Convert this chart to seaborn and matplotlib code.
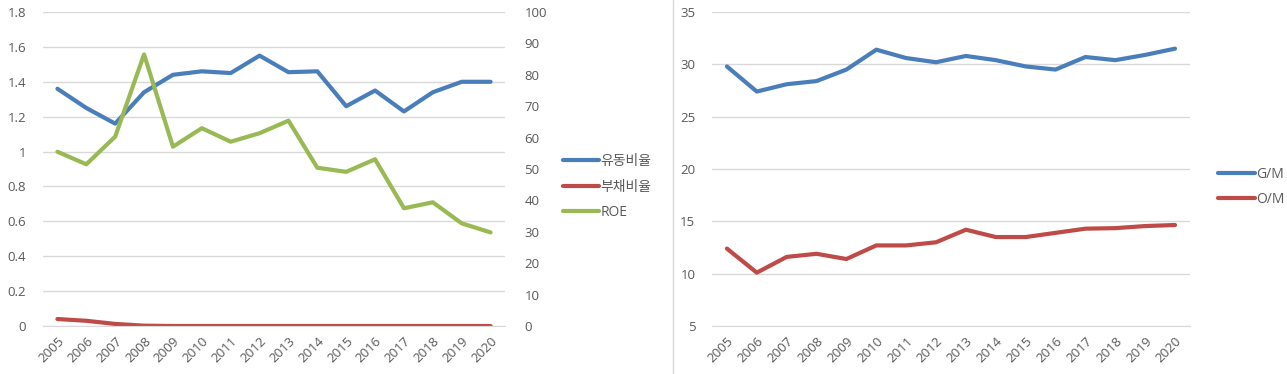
import matplotlib.pyplot as plt
import seaborn as sns
import pandas as pd
import numpy as np
from matplotlib.lines import Line2D

years = [str(y) for y in range(2005, 2021)]

# 왼쪽 차트
current_ratio = [1.36, 1.25, 1.16, 1.34, 1.44, 1.46, 1.45, 1.55, 1.455, 1.46,
                 1.26, 1.35, 1.23, 1.34, 1.40, 1.40]
debt_ratio = [0.04, 0.03, 0.012, 0.002, 0, 0, 0, 0, 0, 0, 0, 0, 0, 0, 0, 0]
roe = [55.5, 51.5, 60.3, 86.5, 57.1, 63.0, 58.7, 61.4, 65.4, 50.4,
       49.1, 53.1, 37.5, 39.4, 32.7, 29.8]

# 오른쪽 차트
gm = [29.8, 27.4, 28.1, 28.4, 29.5, 31.4, 30.6, 30.2, 30.8, 30.4,
      29.8, 29.5, 30.7, 30.4, 30.9, 31.5]
om = [12.4, 10.1, 11.6, 11.9, 11.4, 12.7, 12.7, 13.0, 14.2, 13.5,
      13.5, 13.9, 14.3, 14.35, 14.55, 14.65]

BLUE = "#4A7EBB"
RED = "#BE4B48"
GREEN = "#98B954"
GRID = "#D9D9D9"
TXT = "#595959"

sns.set_style("white")
plt.rcParams['font.family'] = ['Open Sans', 'Noto Sans CJK KR', 'DejaVu Sans']

fig = plt.figure(figsize=(12.87, 3.74), dpi=100)
ax1 = fig.add_axes([0.0334, 0.1283, 0.359, 0.8396])
ax2 = ax1.twinx()
ax3 = fig.add_axes([0.5532, 0.1283, 0.3714, 0.8396])

pos = np.arange(len(years))
left_df = pd.DataFrame({"x": np.tile(pos, 2),
                        "v": current_ratio + debt_ratio,
                        "s": ["유동비율"] * 16 + ["부채비율"] * 16})
sns.lineplot(data=left_df, x="x", y="v", hue="s", palette=[BLUE, RED],
             linewidth=3, ax=ax1, legend=False)
sns.lineplot(x=pos, y=roe, color=GREEN, linewidth=3, ax=ax2)

right_df = pd.DataFrame({"x": np.tile(pos, 2), "v": gm + om,
                         "s": ["G/M"] * 16 + ["O/M"] * 16})
sns.lineplot(data=right_df, x="x", y="v", hue="s", palette=[BLUE, RED],
             linewidth=3, ax=ax3, legend=False)


def style_x(ax):
    ax.set_xlim(-0.5, len(years) - 0.5)
    ax.set_xticks(pos)
    ax.set_xticklabels(years, rotation=45, ha="right", rotation_mode="anchor",
                       fontsize=9.5, color=TXT)
    ax.set_xticks(np.arange(-0.5, len(years)), minor=True)
    ax.tick_params(axis="x", which="major", length=0, pad=6)
    ax.tick_params(axis="x", which="minor", length=4, color=GRID, width=1)
    ax.set_xlabel("")
    ax.set_ylabel("")
    for s in ["top", "right", "left"]:
        ax.spines[s].set_visible(False)
    ax.spines["bottom"].set_color(GRID)


style_x(ax1)
ax1.set_ylim(0, 1.8)
ax1.set_yticks(np.arange(0, 1.81, 0.2))
ax1.set_yticklabels(["0", "0.2", "0.4", "0.6", "0.8", "1", "1.2", "1.4", "1.6", "1.8"])
ax1.yaxis.grid(True, color=GRID, linewidth=1)
ax1.tick_params(axis="y", length=0, labelsize=9.5, labelcolor=TXT, pad=12)

ax2.set_ylim(0, 100)
ax2.set_yticks(range(0, 101, 10))
ax2.tick_params(axis="y", length=0, labelsize=9.5, labelcolor=TXT, pad=14)
for s in ["top", "right", "left", "bottom"]:
    ax2.spines[s].set_visible(False)
ax2.set_ylabel("")

style_x(ax3)
ax3.set_ylim(5, 35)
ax3.set_yticks(range(5, 36, 5))
ax3.yaxis.grid(True, color=GRID, linewidth=1)
ax3.tick_params(axis="y", length=0, labelsize=9.5, labelcolor=TXT, pad=12)

h1 = [Line2D([], [], color=c, linewidth=3) for c in [BLUE, RED, GREEN]]
fig.legend(h1, ["유동비율", "부채비율", "ROE"], loc="center left",
           bbox_to_anchor=(0.428, 0.50), frameon=False, fontsize=10,
           handlelength=2.6, handletextpad=0.1, labelspacing=0.75,
           labelcolor=TXT)
h3 = [Line2D([], [], color=c, linewidth=3) for c in [BLUE, RED]]
fig.legend(h3, ["G/M", "O/M"], loc="center left",
           bbox_to_anchor=(0.937, 0.50), frameon=False, fontsize=10,
           handlelength=2.6, handletextpad=0.1, labelspacing=0.75,
           labelcolor=TXT)

fig.add_artist(Line2D([673 / 1287, 673 / 1287], [0, 1], color=GRID,
                      linewidth=1, transform=fig.transFigure))

fig.savefig("out.png", dpi=100)
